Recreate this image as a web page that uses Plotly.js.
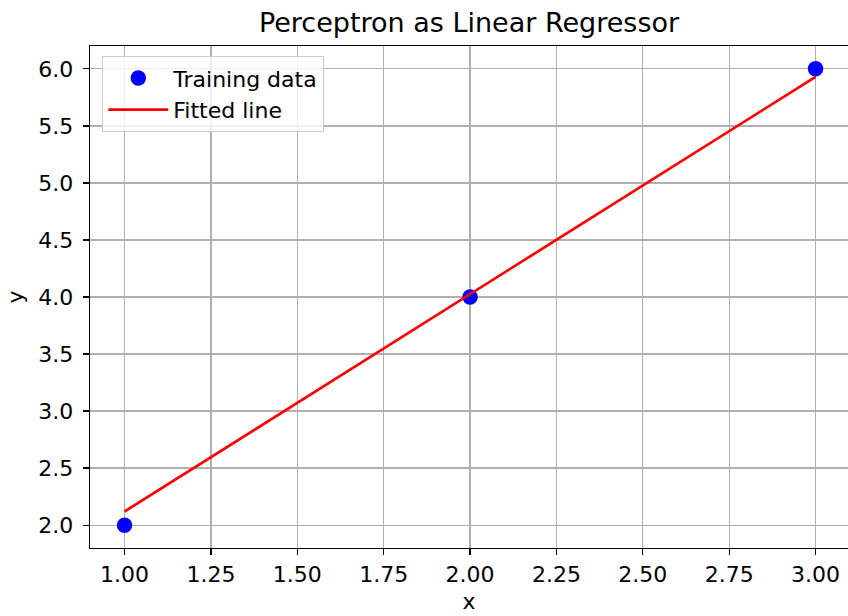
<!DOCTYPE html>
<html>
<head>
<meta charset="utf-8">
<script src="https://cdn.plot.ly/plotly-3.0.1.min.js"></script>
<style>html,body{margin:0;padding:0;background:#fff;}#chart{width:848px;height:616px;}</style>
</head>
<body>
<div id="chart"></div>
<script>
const xTrain = [1, 2, 3];
const yTrain = [2, 4, 6];
const xLine = [1, 2, 3];
const yFit = [2.12, 4.025, 5.93];
const xTicks = [1.0, 1.25, 1.5, 1.75, 2.0, 2.25, 2.5, 2.75, 3.0];
const yTicks = [2.0, 2.5, 3.0, 3.5, 4.0, 4.5, 5.0, 5.5, 6.0];

const font = "DejaVu Sans, sans-serif";
const traces = [
  {x: xTrain, y: yTrain, mode: 'markers', type: 'scatter', name: 'Training data',
   marker: {color: '#0000ff', size: 15.5}},
  {x: xLine, y: yFit, mode: 'lines', type: 'scatter', name: 'Fitted line',
   line: {color: '#ff0000', width: 2.7}}
];
const layout = {
  width: 848, height: 616,
  margin: {l: 90, r: 0, t: 46, b: 68},
  paper_bgcolor: '#fff', plot_bgcolor: '#fff',
  font: {family: font, size: 22, color: '#000'},
  title: {text: 'Perceptron as Linear Regressor', font: {family: font, size: 27, color: '#000'},
          x: 0.5, xref: 'paper', xanchor: 'center', y: 1 - 23/616, yanchor: 'middle'},
  showlegend: true,
  legend: {x: 12/758, xanchor: 'left', y: 1 - 10/502, yanchor: 'top',
           bgcolor: 'rgba(255,255,255,0.8)', bordercolor: '#cccccc', borderwidth: 1.3,
           itemwidth: 60,
           font: {family: font, size: 22, color: '#000'}},
  xaxis: {range: [0.9, 0.9 + 758/345.5], tickvals: xTicks, tickformat: '.2f',
          showgrid: true, gridcolor: '#b0b0b0', gridwidth: 1.3, zeroline: false,
          showline: true, linecolor: '#000', linewidth: 1.3, mirror: true,
          ticks: 'outside', ticklen: 6, tickwidth: 1.3, tickcolor: '#000',
          title: {text: 'x', font: {family: font, size: 22}, standoff: 8},
          tickfont: {family: font, size: 22}},
  yaxis: {range: [1.8, 6.2], tickvals: yTicks, tickformat: '.1f',
          showgrid: true, gridcolor: '#b0b0b0', gridwidth: 1.3, zeroline: false,
          showline: true, linecolor: '#000', linewidth: 1.3, mirror: false,
          ticks: 'outside', ticklen: 6, tickwidth: 1.3, tickcolor: '#000',
          ticklabelstandoff: 5,
          title: {text: 'y', font: {family: font, size: 22}, standoff: 8},
          tickfont: {family: font, size: 22}}
};
Plotly.newPlot('chart', traces, layout, {displayModeBar: false, staticPlot: true});
</script>
</body>
</html>
